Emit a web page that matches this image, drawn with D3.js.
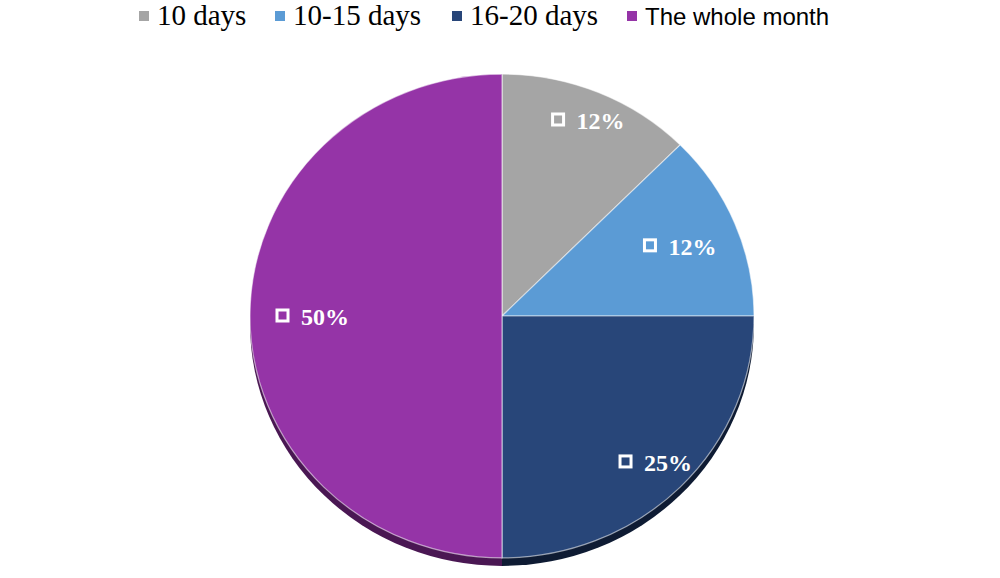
<!DOCTYPE html>
<html>
<head>
<meta charset="utf-8">
<script src="https://cdn.jsdelivr.net/npm/d3@7"></script>
<style>
  body { margin: 0; background: #fff; }
</style>
</head>
<body>
<div id="chart"></div>
<script>
// chart data
const categories = ["10 days", "10-15 days", "16-20 days", "The whole month"];
const values = [12.5, 12.5, 25, 50];
const labels = ["12%", "12%", "25%", "50%"];
const colors = ["#a5a5a5", "#5b9bd5", "#284679", "#9534a7"];
const sideColors = ["#5a5a5a", "#2f5b82", "#0e1b33", "#4a1753"];

const w = 1000;
const h = 578;
const cx = 502, cy = 316;
const r = 252;
const squash = 0.96; // pie is a touch flatter than a circle

const svg = d3.select("#chart")
  .append("svg")
  .attr("width", w)
  .attr("height", h);

const pie = d3.pie().sort(null).value((d) => d.value);
const arcs = pie(values.map((v, i) => ({ value: v, i: i })));

const arc = d3.arc().innerRadius(0).outerRadius(r);

// dark rim below the face
svg.append("g")
  .attr("transform", `translate(${cx}, ${cy + 8}) scale(1, ${squash})`)
  .selectAll("path")
  .data(arcs)
  .join("path")
  .attr("d", arc)
  .attr("fill", (d) => sideColors[d.data.i]);

// pie face
svg.append("g")
  .attr("transform", `translate(${cx}, ${cy}) scale(1, ${squash})`)
  .selectAll("path")
  .data(arcs)
  .join("path")
  .attr("d", arc)
  .attr("fill", (d) => colors[d.data.i])
  .attr("stroke", "rgba(255,255,255,0.55)")
  .attr("stroke-width", 1.2)
  .attr("vector-effect", "non-scaling-stroke");

// data labels
const labelR = [221, 191, 215, 191];
const lab = svg.append("g")
  .selectAll("g")
  .data(arcs)
  .join("g")
  .attr("transform", (d) => {
    const a = (d.startAngle + d.endAngle) / 2;
    const lr = labelR[d.data.i];
    const x = cx + Math.sin(a) * lr;
    const y = cy - Math.cos(a) * lr * squash;
    return `translate(${x}, ${y})`;
  });

lab.append("rect")
  .attr("x", -34)
  .attr("y", -6)
  .attr("width", 11)
  .attr("height", 11)
  .attr("fill", "none")
  .attr("stroke", "#fff")
  .attr("stroke-width", 3);

lab.append("text")
  .attr("x", -10)
  .attr("y", 9)
  .attr("fill", "#fff")
  .style("font-family", "'Liberation Serif', 'DejaVu Serif', serif")
  .style("font-weight", "bold")
  .style("font-size", "24px")
  .text((d) => labels[d.data.i]);

// legend
const legendX = [139, 275, 452, 627];
const legend = svg.append("g")
  .selectAll("g")
  .data(categories)
  .join("g")
  .attr("transform", (d, i) => `translate(${legendX[i]}, 0)`);

legend.append("rect")
  .attr("x", 0)
  .attr("y", 11)
  .attr("width", 10)
  .attr("height", 10)
  .attr("fill", (d, i) => colors[i]);

legend.append("text")
  .attr("x", 18)
  .attr("y", 25)
  .attr("fill", "#000")
  .style("font-family", (d, i) => i === 3 ? "'Liberation Sans', Arial, sans-serif" : "'Liberation Serif', 'Times New Roman', serif")
  .style("font-size", (d, i) => i === 3 ? "24px" : "29px")
  .text((d) => d);
</script>
</body>
</html>
